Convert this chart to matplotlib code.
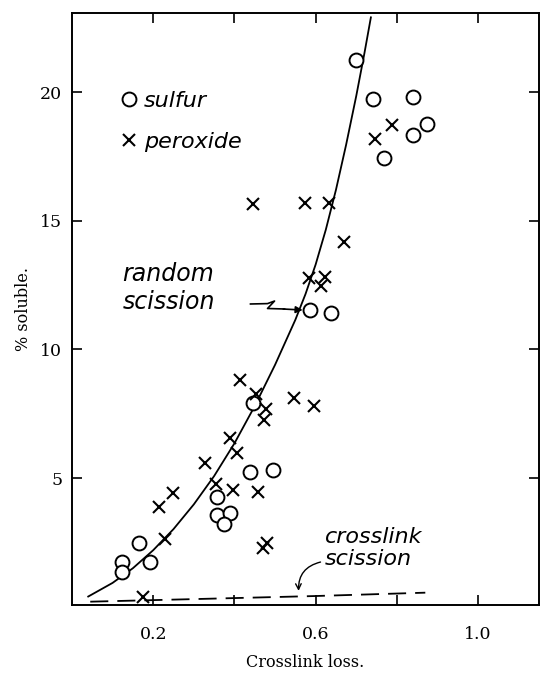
import matplotlib
matplotlib.use("Agg")
import matplotlib.pyplot as plt
from matplotlib.lines import Line2D

# sulfur cured samples (open circles)
SULFUR_X = [0.699, 0.740, 0.839, 0.873, 0.840, 0.769, 0.585, 0.637, 0.445, 0.438,
            0.495, 0.357, 0.357, 0.390, 0.374, 0.165, 0.124, 0.124, 0.193]
SULFUR_Y = [21.23, 19.72, 19.81, 18.75, 18.33, 17.42, 11.54, 11.42, 7.9, 5.25,
            5.30, 4.28, 3.57, 3.63, 3.20, 2.47, 1.73, 1.37, 1.76]

# peroxide cured samples (crosses)
PEROX_X = [0.445, 0.575, 0.633, 0.670, 0.584, 0.622, 0.614, 0.787, 0.747, 0.414,
           0.454, 0.478, 0.472, 0.547, 0.596, 0.388, 0.407, 0.327, 0.354, 0.396,
           0.459, 0.248, 0.215, 0.229, 0.470, 0.479, 0.174]
PEROX_Y = [15.65, 15.67, 15.67, 14.16, 12.78, 12.80, 12.48, 18.71, 18.17, 8.8,
           8.28, 7.68, 7.27, 8.11, 7.79, 6.54, 5.98, 5.57, 4.78, 4.53,
           4.46, 4.41, 3.86, 2.64, 2.30, 2.48, 0.38]

# theoretical curves
RANDOM_X = [0.04, 0.10, 0.15, 0.20, 0.25, 0.30, 0.35, 0.40, 0.45, 0.50,
            0.55, 0.575, 0.60, 0.625, 0.65, 0.675, 0.70, 0.72, 0.736]
RANDOM_Y = [0.40, 0.93, 1.50, 2.20, 3.02, 3.98, 5.08, 6.35, 7.80, 9.40,
            11.15, 12.15, 13.30, 14.65, 16.20, 17.95, 19.85, 21.50, 22.90]

CROSSLINK_X = [0.045, 0.30, 0.60, 0.87]
CROSSLINK_Y = [0.20, 0.30, 0.42, 0.55]

X_TICKS = [0.2, 0.4, 0.6, 0.8, 1.0]
X_TICK_LABELS = ["0.2", "", "0.6", "", "1.0"]
Y_TICKS = [5, 10, 15, 20]

HAND = dict(family="DejaVu Sans", style="oblique")
SERIF = "DejaVu Serif"


def plot_solubility():
    fig = plt.figure(figsize=(5.42, 6.73), dpi=100)
    ax = fig.add_axes([0.1328, 0.1010, 0.8617, 0.8797])

    ax.plot(RANDOM_X, RANDOM_Y, color="black", lw=1.3, zorder=2)
    ax.plot(CROSSLINK_X, CROSSLINK_Y, color="black", lw=1.3,
            dashes=(10, 5), zorder=2)

    ax.plot(SULFUR_X, SULFUR_Y, "o", ms=10, mfc="white", mec="black",
            mew=1.4, ls="none", zorder=3)
    ax.plot(PEROX_X, PEROX_Y, "x", ms=8.5, color="black", mew=1.5,
            ls="none", zorder=3)

    ax.set_xlim(0, 1.15)
    ax.set_ylim(0.07, 23.07)

    ax.set_xticks(X_TICKS)
    ax.set_xticklabels(X_TICK_LABELS, family=SERIF, fontsize=12.5)
    ax.set_yticks(Y_TICKS)
    ax.set_yticklabels([str(v) for v in Y_TICKS], family=SERIF, fontsize=12.5)
    ax.tick_params(axis="x", direction="in", length=7, width=1.2,
                   top=True, bottom=True, pad=15)
    ax.tick_params(axis="y", direction="in", length=7, width=1.2,
                   left=True, right=True, pad=7)
    for sp in ax.spines.values():
        sp.set_linewidth(1.4)

    ax.set_xlabel("Crosslink loss.", family=SERIF, fontsize=11.5, labelpad=8)
    ax.set_ylabel("% soluble.", family=SERIF, fontsize=11.5, labelpad=6)

    # legend drawn like the handwritten key
    handles = [
        Line2D([], [], marker="o", ms=10, mfc="white", mec="black", mew=1.4, ls="none"),
        Line2D([], [], marker="x", ms=8.5, color="black", mew=1.5, ls="none"),
    ]
    ax.legend(handles, ["sulfur", "peroxide"], loc="upper left",
              bbox_to_anchor=(0.104, 0.868), frameon=False, handlelength=0.75,
              handletextpad=0.3, borderpad=0, borderaxespad=0, labelspacing=0.95,
              prop=dict(size=16, **HAND))

    ax.text(0.124, 12.4, "random\nscission", fontsize=17, ha="left",
            va="center", linespacing=1.2, **HAND)
    zig_x = [0.4395, 0.4815, 0.4988, 0.4815, 0.5235]
    zig_y = [11.765, 11.78, 11.88, 11.59, 11.57]
    ax.plot(zig_x, zig_y, color="black", lw=1.2)
    ax.annotate("", xy=(0.568, 11.53), xytext=(0.52, 11.57),
                arrowprops=dict(arrowstyle="-|>", color="black", lw=1.2,
                                mutation_scale=10, shrinkA=0, shrinkB=0))

    ax.text(0.623, 2.28, "crosslink\nscission", fontsize=16, ha="left",
            va="center", linespacing=1.15, **HAND)
    ax.annotate("", xy=(0.558, 0.62), xytext=(0.612, 1.74),
                arrowprops=dict(arrowstyle="->", color="black", lw=1.0,
                                connectionstyle="arc3,rad=0.4",
                                shrinkA=0, shrinkB=0))

    fig.savefig("out.png", dpi=100)


if __name__ == "__main__":
    plot_solubility()
